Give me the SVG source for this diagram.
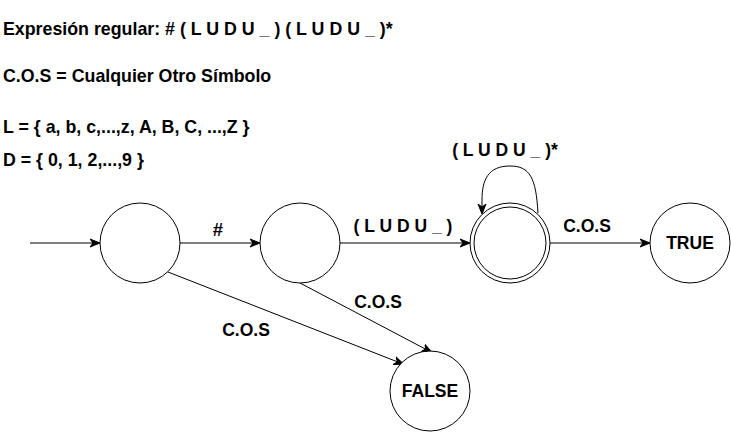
<svg xmlns="http://www.w3.org/2000/svg" width="731" height="435" viewBox="0 0 731 435">
<style>
text{font-family:"Liberation Sans",Arial,sans-serif;font-weight:bold;fill:#000}
.t{font-size:17.8px}
.l{font-size:17.5px}
circle{fill:#fff;stroke:#000;stroke-width:1}
.e{fill:none;stroke:#000;stroke-width:1;marker-end:url(#a)}
</style>
<defs>
<marker id="a" viewBox="0 0 10 10" refX="9" refY="5" markerWidth="10" markerHeight="10" markerUnits="userSpaceOnUse" orient="auto">
<path d="M0,1 L10,5 L0,9 L3,5 z" fill="#000" stroke="#000" stroke-width="1"/>
</marker>
</defs>
<g id="header">
<text class="t" x="3" y="35">Expresión regular: # ( L U D U _ ) ( L U D U _ )*</text>
<text class="t" x="3" y="82">C.O.S = Cualquier Otro Símbolo</text>
<text class="t" x="3" y="133">L = { a, b, c,...,z, A, B, C, ...,Z }</text>
<text class="t" x="3" y="166">D = { 0, 1, 2,...,9 }</text>
</g>
<g id="connectors">
<path class="e" d="M30,243 L99,243"/>
<path class="e" d="M180,243 L259,243"/>
<path class="e" d="M340,243 L469,243"/>
<path class="e" d="M550,243 L649,243"/>
<path class="e" d="M168,272 L403,364"/>
<path class="e" d="M300,283 L431,352"/>
<path class="e" d="M538,213 C536,178 530,166 510,166 C488,166 482,180 482,200 L482,213"/>
<text class="l" x="218" y="235.5" text-anchor="middle" style="font-size:18.5px">#</text>
<text class="l" x="403" y="232" text-anchor="middle">( L U D U _ )</text>
<text class="l" x="587" y="232" text-anchor="middle">C.O.S</text>
<text class="l" x="505" y="156" text-anchor="middle">( L U D U _ )*</text>
<text class="l" x="378" y="308" text-anchor="middle">C.O.S</text>
<text class="l" x="246" y="336" text-anchor="middle">C.O.S</text>
</g>
<g id="q0"><circle cx="140" cy="243" r="40"/></g>
<g id="q1"><circle cx="300" cy="243" r="40"/></g>
<g id="q2"><circle cx="510" cy="243" r="40"/><circle cx="510" cy="243" r="36"/></g>
<g id="true"><circle cx="690" cy="243" r="40"/><text class="l" x="690" y="249" text-anchor="middle">TRUE</text></g>
<g id="false"><circle cx="430" cy="391" r="40"/><text class="l" x="430" y="397" text-anchor="middle">FALSE</text></g>
</svg>
